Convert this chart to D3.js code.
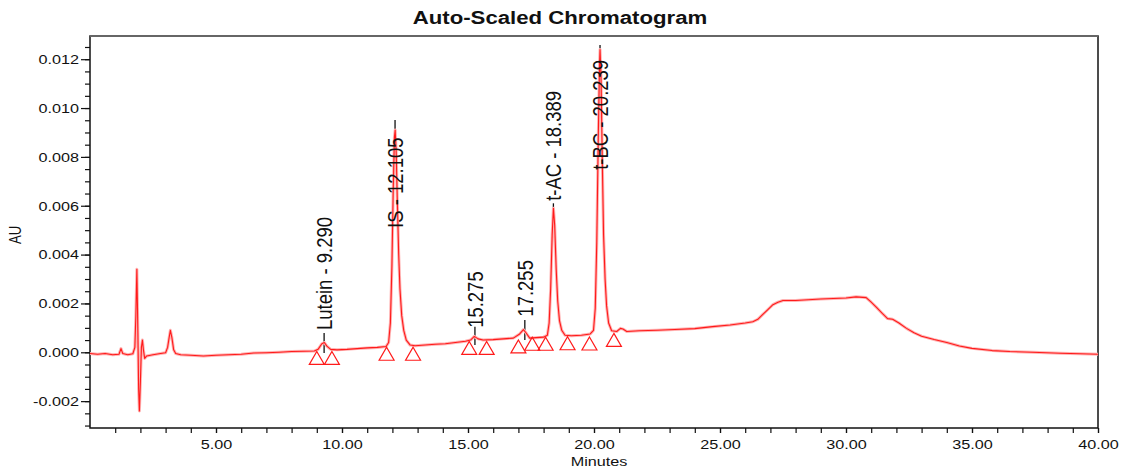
<!DOCTYPE html>
<html>
<head>
<meta charset="utf-8">
<script src="https://cdn.jsdelivr.net/npm/d3@7"></script>
<style>
  body { margin: 0; background: #fff; }
  text { font-family: "Liberation Sans", Arial, sans-serif; fill: #111; }
</style>
</head>
<body>
<div class="chart"></div>
<script>
var width = 1124,
    height = 472;

// horizontal stretch of the source picture
var SX = 1.2;

// ---- data (minutes, AU) ----
var trace = [
  [0.0, -0.00005], [0.3, -0.00008], [0.6, -0.00005], [0.9, -0.0001], [1.15, -0.00008],
  [1.23, 0.00015], [1.3, -0.00005], [1.5, -0.0001], [1.7, -0.00006],
  [1.78, 0.0002], [1.82, 0.0015], [1.86, 0.0034], [1.9, 0.0008], [1.93, -0.0015],
  [1.96, -0.0024], [2.0, -0.0012], [2.04, 0.0002], [2.08, 0.0005], [2.12, 0.0001],
  [2.17, -0.00025], [2.25, -0.00015], [2.5, -0.0001], [2.8, -0.00005], [3.0, -0.00002],
  [3.08, 0.0002], [3.14, 0.0006], [3.19, 0.0009], [3.25, 0.0006], [3.32, 0.0001],
  [3.4, -0.00005], [3.6, -0.0001], [4.0, -0.00012], [4.5, -0.00015], [5.0, -0.00012],
  [5.5, -0.0001], [6.0, -0.00008], [6.5, -0.00003], [7.0, -0.00002], [7.5, 0.0],
  [8.0, 0.00003], [8.5, 0.00004], [8.9, 0.00005],
  [9.05, 0.00012], [9.2, 0.00035], [9.3, 0.0004], [9.4, 0.00025], [9.55, 0.00012],
  [9.8, 0.0001], [10.2, 0.00012], [10.6, 0.00015], [11.0, 0.00018], [11.4, 0.0002], [11.75, 0.00024],
  [11.85, 0.0004], [11.92, 0.0012], [11.98, 0.0035], [12.03, 0.0065], [12.08, 0.0088],
  [12.11, 0.0091], [12.15, 0.0082], [12.2, 0.006], [12.25, 0.004], [12.3, 0.0026],
  [12.37, 0.0015], [12.45, 0.0009], [12.55, 0.0005], [12.7, 0.0003], [12.9, 0.00027],
  [13.3, 0.0003], [13.7, 0.00033], [14.1, 0.00035], [14.5, 0.0004], [14.9, 0.00045],
  [15.1, 0.0005], [15.25, 0.00065], [15.4, 0.00055], [15.6, 0.0005], [16.0, 0.00052],
  [16.4, 0.00055], [16.8, 0.00058],
  [17.05, 0.00075], [17.2, 0.00093], [17.3, 0.0008], [17.45, 0.00058], [17.7, 0.0006], [18.0, 0.00062],
  [18.15, 0.0007], [18.22, 0.0012], [18.28, 0.0026], [18.34, 0.0048], [18.39, 0.0059],
  [18.44, 0.0052], [18.5, 0.0034], [18.56, 0.0021], [18.63, 0.0013], [18.72, 0.0009],
  [18.85, 0.0007], [19.1, 0.00068], [19.5, 0.0007], [19.85, 0.00075],
  [19.98, 0.0009], [20.05, 0.0018], [20.11, 0.0045], [20.17, 0.0088], [20.22, 0.0118],
  [20.24, 0.0124], [20.28, 0.0112], [20.33, 0.0078], [20.38, 0.0048], [20.44, 0.003],
  [20.5, 0.0019], [20.58, 0.0012], [20.7, 0.00088], [20.9, 0.00085], [21.05, 0.00098],
  [21.15, 0.00095], [21.3, 0.00085], [21.8, 0.00088], [22.5, 0.0009], [23.2, 0.00093],
  [24.0, 0.00097], [24.7, 0.00105], [25.4, 0.00112], [26.0, 0.0012], [26.3, 0.00125],
  [26.5, 0.00135], [26.7, 0.00155], [26.9, 0.00175], [27.1, 0.00195], [27.3, 0.00205],
  [27.5, 0.00212], [28.0, 0.00212], [28.5, 0.00215], [29.0, 0.00218], [29.5, 0.0022],
  [30.0, 0.00222], [30.4, 0.00227], [30.8, 0.00224], [31.0, 0.00205], [31.2, 0.00185],
  [31.45, 0.00158], [31.65, 0.00138], [31.85, 0.00135], [32.1, 0.0012], [32.4, 0.00098],
  [32.7, 0.0008], [33.0, 0.00066], [33.5, 0.00052], [34.0, 0.0004], [34.5, 0.00026],
  [35.0, 0.00016], [35.8, 0.00007], [36.5, 0.00003], [37.4, 0.0], [38.5, -0.00004],
  [39.3, -0.00006], [40.0, -0.00008]
];

var peakNames = ["Lutein - 9.290", "IS - 12.105", "15.275", "17.255", "t-AC - 18.389", "t-BC - 20.239"];
var peakTimes = [9.29, 12.105, 15.275, 17.255, 18.389, 20.239];
var labelStartAU = [0.00091, 0.00509, 0.0010, 0.00146, 0.00620, 0.00747];
var markTopAU = [0.00079, 0.00951, 0.00105, 0.00132, 0.00610, 0.01258];
var markBottomAU = [-0.00003, 0.00870, 0.00030, 0.00050, 0.00565, 0.01185];

var triangleTimes = [9.0, 9.6, 11.77, 12.82, 15.05, 15.74, 17.0, 17.55, 18.08, 18.95, 19.82, 20.79];
var triangleAU = [-0.00032, -0.00032, -0.00015, -0.00015, 0.00009, 0.00009, 0.00015, 0.00026, 0.00026, 0.00028, 0.00027, 0.00042];

var xMajor = [5, 10, 15, 20, 25, 30, 35, 40];
var xMinor = d3.range(1, 41);
var yMajor = [-0.002, 0, 0.002, 0.004, 0.006, 0.008, 0.010, 0.012];
var yMinor = d3.range(-30, 126, 5).map(function(d) { return d / 10000; });

var svg = d3.select(".chart").append("svg")
    .attr("width", width)
    .attr("height", height);

var x = d3.scaleLinear().domain([0, 40]).range([90, 1098]);
var y = d3.scaleLinear().domain([-0.0031, 0.01295]).range([428, 36]);

var fmtY = function(d) { return d3.format(".3f")(d).replace("\u2212", "-"); };

// title
svg.append("text")
    .attr("transform", "translate(560,24) scale(" + SX + ",1)")
    .attr("text-anchor", "middle")
    .style("font-size", "18.5px")
    .style("font-weight", "bold")
    .text("Auto-Scaled Chromatogram");

// minor ticks
svg.append("g")
    .attr("transform", "translate(90,0)")
    .call(d3.axisLeft(y).tickValues(yMinor).tickSize(5).tickSizeOuter(0).tickFormat(""))
    .call(function(g) { g.select(".domain").remove(); });
svg.append("g")
    .attr("transform", "translate(0,428)")
    .call(d3.axisBottom(x).tickValues(xMinor).tickSize(5).tickSizeOuter(0).tickFormat(""))
    .call(function(g) { g.select(".domain").remove(); });

// major ticks + labels
var yAxis = svg.append("g")
    .attr("transform", "translate(90,0)")
    .call(d3.axisLeft(y).tickValues(yMajor).tickSize(9).tickPadding(2).tickSizeOuter(0).tickFormat(fmtY));
yAxis.select(".domain").remove();
yAxis.selectAll("text")
    .style("font-size", "13.5px")
    .attr("x", -11 / SX)
    .attr("transform", "scale(" + SX + ",1)");

var xAxis = svg.append("g")
    .attr("transform", "translate(0,428)")
    .call(d3.axisBottom(x).tickValues(xMajor).tickSize(5).tickPadding(6).tickSizeOuter(0).tickFormat(d3.format(".2f")));
xAxis.select(".domain").remove();
xAxis.selectAll("text")
    .style("font-size", "13.5px")
    .attr("transform", "scale(" + SX + ",1)");

svg.selectAll(".tick line").attr("stroke", "#111").attr("stroke-width", 1.2);
svg.selectAll(".tick text").attr("fill", "#111");

// axis titles
svg.append("text")
    .attr("transform", "translate(599,466) scale(" + SX + ",1)")
    .attr("text-anchor", "middle")
    .style("font-size", "13.5px")
    .text("Minutes");
svg.append("text")
    .attr("transform", "translate(21,235) scale(" + SX + ",1) rotate(-90)")
    .attr("text-anchor", "middle")
    .style("font-size", "13px")
    .text("AU");

// frame
svg.append("rect")
    .attr("x", 90).attr("y", 36)
    .attr("width", 1008).attr("height", 392)
    .attr("fill", "none")
    .attr("stroke", "#111")
    .attr("stroke-width", 1.5);
svg.append("line")
    .attr("x1", 90).attr("x2", 1098).attr("y1", 36).attr("y2", 36)
    .attr("stroke", "#666").attr("stroke-width", 2);

// peak marker lines
svg.append("g").selectAll("line")
    .data(peakTimes)
    .enter().append("line")
    .attr("x1", function(d) { return x(d); })
    .attr("x2", function(d) { return x(d); })
    .attr("y1", function(d, i) { return y(markTopAU[i]); })
    .attr("y2", function(d, i) { return y(markBottomAU[i]); })
    .attr("stroke", "#111")
    .attr("stroke-width", 1.3);

// trace
var line = d3.line()
    .x(function(d) { return x(d[0]); })
    .y(function(d) { return y(d[1]); });

svg.append("path")
    .datum(trace)
    .attr("d", line)
    .attr("fill", "none")
    .attr("stroke", "#ffb3b3")
    .attr("stroke-width", 3)
    .attr("stroke-linejoin", "round");
svg.append("path")
    .datum(trace)
    .attr("d", line)
    .attr("fill", "none")
    .attr("stroke", "#ff1a1a")
    .attr("stroke-width", 1.1)
    .attr("stroke-linejoin", "round");

// integration markers
svg.append("g").selectAll("path")
    .data(triangleTimes)
    .enter().append("path")
    .attr("d", d3.symbol().type(d3.symbolTriangle).size(97))
    .attr("transform", function(d, i) { return "translate(" + x(d) + "," + y(triangleAU[i]) + ")"; })
    .attr("fill", "none")
    .attr("stroke", "#ff1a1a")
    .attr("stroke-width", 1.2);

// peak labels
svg.append("g").selectAll("text")
    .data(peakNames)
    .enter().append("text")
    .attr("transform", function(d, i) {
        return "translate(" + x(peakTimes[i]) + "," + y(labelStartAU[i]) + ") scale(" + SX + ",1) rotate(-90)";
    })
    .attr("dy", "0.36em")
    .style("font-size", "18.5px")
    .text(function(d) { return d; });
</script>
</body>
</html>
